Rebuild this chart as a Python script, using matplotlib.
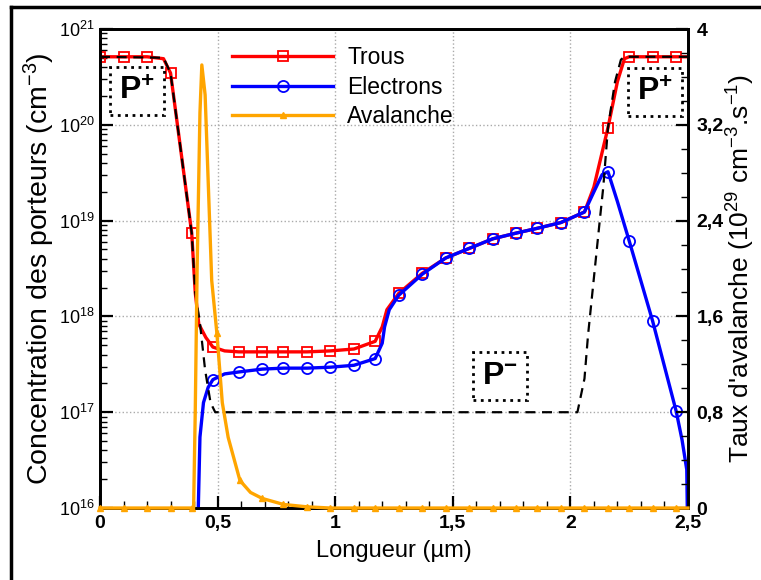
import matplotlib
matplotlib.use("Agg")
import matplotlib.pyplot as plt
from matplotlib.ticker import FixedLocator, MultipleLocator, LogLocator, NullFormatter
from matplotlib.lines import Line2D

plt.rcParams['font.family'] = ['Liberation Sans', 'DejaVu Sans']
plt.rcParams['mathtext.fontset'] = 'custom'
plt.rcParams['mathtext.rm'] = 'Liberation Sans'
plt.rcParams['mathtext.it'] = 'Liberation Sans:italic'
plt.rcParams['mathtext.bf'] = 'Liberation Sans:bold'

# Trous (concentration, cm-3) (log10)
trous_x = [0, 0.1, 0.2, 0.27, 0.3, 0.34, 0.39, 0.405, 0.42, 0.45, 0.48, 0.53, 0.59, 0.69,
           0.78, 0.88, 0.98, 1.08, 1.17, 1.2, 1.22, 1.27, 1.37, 1.47, 1.57, 1.67, 1.77,
           1.86, 1.96, 2.06, 2.1, 2.16, 2.2, 2.23, 2.25, 2.35, 2.45, 2.5]
trous_log = [20.71, 20.71, 20.71, 20.69, 20.54, 19.80, 18.87, 18.25, 17.92, 17.78, 17.68,
             17.64, 17.63, 17.63, 17.63, 17.63, 17.64, 17.66, 17.74, 17.89, 18.07, 18.24,
             18.45, 18.61, 18.71, 18.81, 18.87, 18.92, 18.98, 19.09, 19.35, 19.97, 20.45,
             20.69, 20.71, 20.71, 20.71, 20.71]
trous_mk = [0, 1, 2, 4, 6, 10, 12, 13, 14, 15, 16, 17, 18, 21, 22, 23, 24, 25, 26, 27, 28,
            29, 31, 34, 35, 36]

# Electrons
elec_x = [0.416, 0.418, 0.425, 0.44, 0.46, 0.48, 0.53, 0.59, 0.69, 0.78, 0.88, 0.98, 1.08,
          1.17, 1.2, 1.21, 1.23, 1.27, 1.37, 1.47, 1.57, 1.67, 1.77, 1.86, 1.96, 2.06, 2.1,
          2.135, 2.16, 2.2, 2.25, 2.35, 2.45, 2.475, 2.495, 2.5]
elec_log = [15.5, 16.0, 16.74, 17.1, 17.26, 17.34, 17.40, 17.42, 17.45, 17.46, 17.46, 17.47,
            17.49, 17.56, 17.72, 17.89, 18.07, 18.22, 18.44, 18.61, 18.71, 18.81, 18.87,
            18.92, 18.98, 19.09, 19.3, 19.48, 19.51, 19.2, 18.79, 17.95, 17.01, 16.71,
            16.4, 15.5]
elec_mk = [5, 7, 8, 9, 10, 11, 12, 13, 17, 18, 19, 20, 21, 22, 23, 24, 25, 28, 30, 31, 32]

# Dopage (pointillés)
dop_x = [0, 0.27, 0.3, 0.34, 0.39, 0.405, 0.425, 0.447, 0.47, 0.49, 2.03, 2.06, 2.075, 2.1,
         2.125, 2.14, 2.16, 2.19, 2.215, 2.23, 2.5]
dop_log = [20.71, 20.70, 20.54, 19.80, 18.87, 18.25, 17.93, 17.44, 17.1, 17.0, 17.0, 17.35,
           17.8, 18.4, 19.0, 19.35, 19.97, 20.45, 20.68, 20.71, 20.71]

# Avalanche (10^29 cm-3.s-1)
aval_x = [0, 0.1, 0.2, 0.3, 0.39, 0.398, 0.405, 0.413, 0.425, 0.433, 0.447, 0.475, 0.497,
          0.52, 0.545, 0.595, 0.64, 0.69, 0.78, 0.88, 0.98, 1.08, 1.17, 1.27, 1.37, 1.47,
          1.57, 1.67, 1.77, 1.86, 1.96, 2.06, 2.16, 2.25, 2.35, 2.45, 2.5]
aval_y = [0, 0, 0, 0, 0, 0, 0.8, 2.0, 3.3, 3.70, 3.45, 1.90, 1.46, 0.88, 0.59, 0.23, 0.13,
          0.08, 0.03, 0.01, 0, 0, 0, 0, 0, 0, 0, 0, 0, 0, 0, 0, 0, 0, 0, 0, 0]
aval_mk = [0, 1, 2, 3, 4, 12, 15, 17, 18, 19, 20, 21, 22, 23, 24, 25, 26, 27, 28, 29, 30,
           31, 32, 33, 34, 35]

x_ticks = [0, 0.5, 1, 1.5, 2, 2.5]
x_labels = ['0', '0,5', '1', '1,5', '2', '2,5']
r_ticks = [0, 0.8, 1.6, 2.4, 3.2, 4]
r_labels = ['0', '0,8', '1,6', '2,4', '3,2', '4']

fig = plt.figure(figsize=(7.61, 5.80), dpi=100)
ax = fig.add_axes([0.1314, 0.1241, 0.7726, 0.8259])
ax2 = ax.twinx()

ax.plot(trous_x, [10 ** v for v in trous_log], color='#ff0000', lw=2.4, marker='s',
        ms=7.5, mfc='none', mec='#ff0000', mew=1.3, markevery=trous_mk, label='Trous', zorder=3)
ax.plot(elec_x, [10 ** v for v in elec_log], color='#0000ff', lw=2.4, marker='o',
        ms=8, mfc='none', mec='#0000ff', mew=1.3, markevery=elec_mk, label='Electrons', zorder=4)
ax.plot(dop_x, [10 ** v for v in dop_log], color='black', lw=1.6, ls=(0, (4.5, 3)), zorder=5)
ax2.plot(aval_x, aval_y, color='#ffa500', lw=2.4, marker='^', ms=5, mec='#ffa500',
         markevery=aval_mk, clip_on=False, zorder=6)

ax.set_yscale('log')
ax.set_xlim(0, 2.5)
ax.set_ylim(1e16, 1e21)
ax2.set_ylim(0, 4)

ax.set_xticks(x_ticks)
ax.set_xticklabels(x_labels, fontsize=14, fontweight='bold')
ax.xaxis.set_minor_locator(MultipleLocator(0.1))
ax.yaxis.set_major_locator(LogLocator(base=10, numticks=10))
ax.yaxis.set_minor_locator(LogLocator(base=10, subs=range(2, 10), numticks=20))
ax.yaxis.set_minor_formatter(NullFormatter())
ax.tick_params(axis='y', which='major', direction='in', length=9, width=1.6, labelsize=13, pad=4)
ax.tick_params(axis='y', which='minor', direction='in', length=5, width=1)
ax.tick_params(axis='x', which='major', direction='in', length=9, width=1.6, pad=5)
ax.tick_params(axis='x', which='minor', direction='in', length=5, width=1)

ax2.yaxis.set_major_locator(FixedLocator(r_ticks))
ax2.set_yticklabels(r_labels, fontsize=14, fontweight='bold')
ax2.yaxis.set_minor_locator(MultipleLocator(0.2))
ax2.tick_params(axis='y', which='major', direction='in', length=9, width=1.6, pad=6)
ax2.tick_params(axis='y', which='minor', direction='in', length=5, width=1)

ax.grid(True, which='major', ls=':', color='#aaaaaa', lw=1)
for a in (ax, ax2):
    for s in a.spines.values():
        s.set_linewidth(2)

ax.set_xlabel('Longueur (µm)', fontsize=17, labelpad=6)
ax.set_ylabel('Concentration des porteurs (cm$^{-3}$)', fontsize=20.5, labelpad=1)
ax2.set_ylabel("Taux d'avalanche (10$^{29}$ cm$^{-3}$.s$^{-1}$)", fontsize=19,
               rotation=90, labelpad=1)

# légende : poignées longues, un seul marqueur
handles = [
    Line2D([], [], color='#ff0000', lw=2.4, marker='s', ms=7.5, mfc='none', mew=1.3),
    Line2D([], [], color='#0000ff', lw=2.4, marker='o', ms=8, mfc='none', mew=1.3),
    Line2D([], [], color='#ffa500', lw=2.4, marker='^', ms=5),
]
ax2.legend(handles, ['Trous', 'Electrons', 'Avalanche'], loc='upper left',
           bbox_to_anchor=(0.196, 1.0), frameon=False, fontsize=16.5, numpoints=1,
           handlelength=4.4, handletextpad=0.6, labelspacing=0.28, borderpad=0.25)

box = dict(boxstyle='square,pad=0.28', fc='white', ec='black', ls=':', lw=2)
ax.text(0.157, 10 ** 20.35, r'$\mathbf{P^{+}}$', fontsize=23, ha='center', va='center',
        bbox=box, zorder=7)
ax.text(2.36, 10 ** 20.34, r'$\mathbf{P^{+}}$', fontsize=23, ha='center', va='center',
        bbox=box, zorder=7)
ax.text(1.70, 10 ** 17.38, r'$\mathbf{P^{-}}$', fontsize=23, ha='center', va='center',
        bbox=box, zorder=7)

# cadre de la figure
fig.add_artist(Line2D([0.014, 0.014], [0, 0.988], color='black', lw=2.5,
                      transform=fig.transFigure))
fig.add_artist(Line2D([0.014, 1.0], [0.988, 0.988], color='black', lw=2.5,
                      transform=fig.transFigure))

fig.savefig('out.png', dpi=100)
